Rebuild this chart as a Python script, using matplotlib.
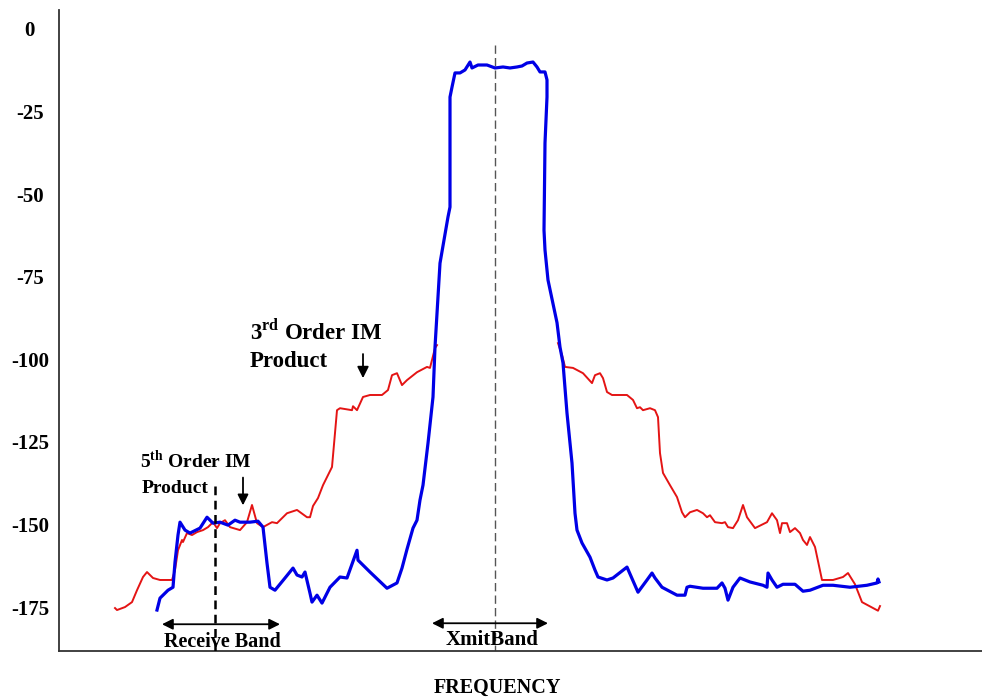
import numpy as np
import matplotlib
matplotlib.use("Agg")
import matplotlib.pyplot as plt

# ==========================================
# Data (frequency in arbitrary units, level in dB)
# ==========================================
blue_f = [157, 160, 168, 173, 175, 178, 180, 185, 190, 200, 207, 213, 220, 228, 235,
          240, 250, 258, 263, 267, 270, 275, 285, 293, 297, 302, 305, 310, 312, 317,
          322, 330, 340, 347, 357, 358, 370, 387, 397, 402, 407, 413, 417, 420, 423,
          428, 433, 435, 440, 448, 450, 450, 452, 455, 460, 465, 470, 472, 478, 487,
          495, 503, 510, 517, 522, 527, 533, 537, 540, 545, 547, 547, 545, 544, 545,
          548, 557, 560, 563, 567, 572, 575, 577, 582, 590, 595, 598, 607, 613, 627,
          638, 647, 652, 655, 662, 677, 685, 687, 690, 703, 717, 722, 725, 728, 733,
          740, 750, 763, 767, 768, 772, 777, 783, 795, 803, 810, 823, 833, 850, 867,
          877, 878, 879]
blue_db = [-175.9, -172.3, -169.9, -169.0, -161.4, -153.2, -149.3, -151.7, -152.6, -151.1,
           -147.8, -149.6, -149.3, -150.2, -148.7, -149.3, -149.3, -149.0, -150.8, -161.7,
           -169.0, -169.9, -166.2, -163.2, -165.3, -165.9, -164.4, -170.8, -173.5, -171.4,
           -173.8, -169.0, -165.9, -166.2, -157.8, -160.8, -164.4, -169.3, -167.7, -163.2,
           -157.5, -151.1, -148.7, -142.6, -138.1, -125.4, -111.4, -96.3, -70.9, -56.9,
           -53.9, -20.6, -17.6, -13.3, -13.3, -12.4, -10.0, -11.8, -10.9, -10.9,
           -11.8, -11.5, -11.8, -11.5, -11.2, -10.3, -10.0, -11.5, -13.0, -13.0,
           -15.4, -20.6, -34.5, -60.9, -66.9, -76.0, -88.9, -96.3, -101.1, -116.3,
           -131.4, -146.6, -151.7, -155.6, -159.9, -163.8, -165.9, -166.8, -166.2, -162.9,
           -170.5, -166.8, -164.7, -166.2, -169.0, -171.4, -171.4, -169.0, -168.7, -169.3,
           -169.3, -167.7, -169.3, -172.9, -169.0, -166.2, -167.4, -168.4, -169.0, -164.7,
           -166.8, -169.0, -168.1, -168.1, -170.2, -169.9, -168.4, -168.4, -169.0, -168.4,
           -167.7, -166.5, -167.4]

red_low_f = [115, 117, 125, 132, 137, 143, 147, 153, 160, 172, 175, 178, 182, 183, 187,
             192, 197, 203, 208, 213, 217, 220, 225, 230, 240, 247, 252, 257, 263, 272,
             277, 287, 297, 307, 310, 313, 318, 323, 332, 335, 337, 340, 352, 353, 357,
             363, 370, 382, 388, 392, 397, 402, 407, 417, 427, 430, 435, 437]
red_low_db = [-175.3, -175.9, -175.0, -173.5, -169.9, -165.9, -164.4, -166.2, -166.8, -166.8,
              -163.8, -157.8, -154.7, -155.3, -152.6, -153.2, -152.3, -151.7, -150.8, -149.3,
              -151.1, -149.6, -148.7, -150.8, -151.7, -149.3, -144.1, -149.6, -150.8, -149.3,
              -149.6, -146.6, -145.6, -147.8, -147.8, -144.4, -142.0, -138.1, -132.6, -122.3,
              -115.4, -114.8, -115.4, -114.2, -115.4, -111.4, -110.8, -110.8, -109.3, -104.8,
              -104.2, -107.8, -106.3, -103.9, -102.3, -102.6, -96.6, -95.7]

red_high_f = [558, 562, 565, 573, 583, 592, 595, 600, 603, 607, 612, 627, 633, 637, 640,
              643, 650, 655, 658, 660, 663, 670, 677, 682, 685, 690, 697, 703, 707, 710,
              715, 722, 725, 728, 733, 738, 743, 747, 755, 767, 772, 777, 780, 782, 787,
              790, 795, 800, 803, 807, 810, 815, 822, 833, 843, 848, 855, 862, 870, 878,
              880]
red_high_db = [-95.1, -98.7, -102.3, -102.6, -104.2, -107.2, -104.8, -104.2, -105.7, -109.9,
               -110.8, -110.8, -112.3, -114.8, -114.5, -115.4, -114.8, -115.4, -117.5, -128.4,
               -134.4, -138.1, -141.7, -146.3, -147.8, -146.3, -145.6, -146.6, -147.8, -147.2,
               -149.3, -149.6, -149.3, -150.8, -151.1, -148.7, -144.1, -147.8, -151.1, -149.3,
               -146.6, -148.7, -152.6, -149.6, -149.6, -152.3, -151.1, -152.6, -154.7, -156.2,
               -153.8, -156.8, -166.8, -166.8, -165.9, -164.7, -168.1, -173.5, -174.8, -176.1,
               -174.7]

y_ticks = [0, -25, -50, -75, -100, -125, -150, -175]

# band markers
RX_CENTER = 215
RX_EDGES = (162, 280)
TX_CENTER = 495
TX_EDGES = (432, 548)

# ==========================================
# Plot
# ==========================================
plt.rcParams['font.family'] = ['Liberation Serif', 'DejaVu Serif']
plt.rcParams['font.weight'] = 'bold'
plt.rcParams['mathtext.fontset'] = 'custom'
plt.rcParams['mathtext.rm'] = 'Liberation Serif:bold'
plt.rcParams['mathtext.bf'] = 'Liberation Serif:bold'

W, H = 982, 700
fig = plt.figure(figsize=(W / 100, H / 100), dpi=100)
ax = fig.add_axes([59 / W, (H - 651) / H, (W - 59) / W, (651 - 10) / H])

ax.plot(red_low_f, red_low_db, color='#e41414', linewidth=1.4, zorder=2)
ax.plot(red_high_f, red_high_db, color='#e41414', linewidth=1.4, zorder=2)
ax.plot(blue_f, blue_db, color='#0000e6', linewidth=2.3, zorder=3)

# band centre lines
ax.plot([RX_CENTER, RX_CENTER], [-138.5, -189], color='black', linewidth=1.8,
        linestyle=(0, (3.5, 2.2)), zorder=4)
ax.plot([TX_CENTER, TX_CENTER], [-4.8, -189], color='#555555', linewidth=1.0,
        linestyle=(0, (6, 3)), zorder=1)

# band arrows
arrow_kw = dict(arrowstyle='<|-|>', color='black', lw=1.3, mutation_scale=16,
                shrinkA=0, shrinkB=0)
ax.annotate('', xy=(RX_EDGES[0], -180.2), xytext=(RX_EDGES[1], -180.2), arrowprops=arrow_kw)
ax.annotate('', xy=(TX_EDGES[0], -179.9), xytext=(TX_EDGES[1], -179.9), arrowprops=arrow_kw)
ax.text(222, -187.1, 'Receive Band', ha='center', va='baseline', fontsize=14.5, fontweight='bold')
ax.text(492, -186.5, 'XmitBand', ha='center', va='baseline', fontsize=15, fontweight='bold')

# IM product labels
ax.text(250, -93.9, r'3$^{\mathrm{rd}}$ Order IM', ha='left', va='baseline',
        fontsize=16.5, fontweight='bold')
ax.text(250, -102.3, 'Product', ha='left', va='baseline', fontsize=16.5, fontweight='bold')
ax.annotate('', xy=(363, -105.7), xytext=(363, -98.4),
            arrowprops=dict(arrowstyle='-|>', color='black', lw=1.3, mutation_scale=17,
                            shrinkA=0, shrinkB=0))

ax.text(140, -132.9, r'5$^{\mathrm{th}}$ Order IM', ha='left', va='baseline',
        fontsize=14, fontweight='bold')
ax.text(142, -140.5, 'Product', ha='left', va='baseline', fontsize=14, fontweight='bold')
ax.annotate('', xy=(243, -144.2), xytext=(243, -135.8),
            arrowprops=dict(arrowstyle='-|>', color='black', lw=1.3, mutation_scale=16,
                            shrinkA=0, shrinkB=0))

ax.set_xlim(59, 982)
ax.set_ylim(-188.3, 5.75)
ax.set_xticks([])
ax.set_yticks(y_ticks)
ax.set_yticklabels([str(t) for t in y_ticks], fontsize=15, fontweight='bold')
for lbl in ax.get_yticklabels():
    lbl.set_horizontalalignment('center')
ax.tick_params(axis='y', length=0, pad=21)

for side in ['top', 'right']:
    ax.spines[side].set_visible(False)
for side in ['left', 'bottom']:
    ax.spines[side].set_color('#333333')
    ax.spines[side].set_linewidth(1.3)

fig.text(497 / W, (H - 693) / H, 'FREQUENCY', ha='center', va='baseline',
         fontsize=14.5, fontweight='bold')

fig.savefig('out.png', dpi=100)
